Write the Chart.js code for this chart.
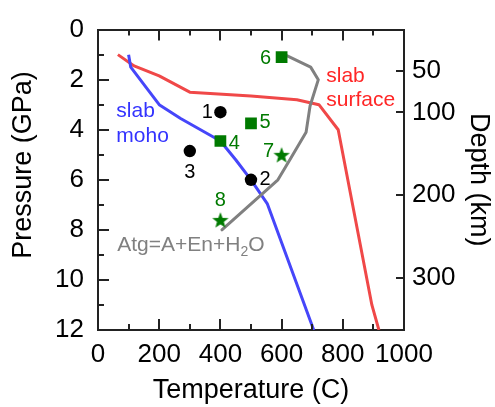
<!DOCTYPE html>
<html>
<head>
<meta charset="utf-8">
<title>Slab P-T diagram</title>
<script src="https://cdn.jsdelivr.net/npm/chart.js@4.4.0/dist/chart.umd.min.js"></script>
<style>
  html, body { margin: 0; padding: 0; background: #fff; }
  canvas { display: block; }
</style>
</head>
<body>
<canvas id="ptChart" width="495" height="407"></canvas>
<script>
// P-T diagram: slab geotherms + Atg breakdown curve + run conditions

/* ── Axis ticks ── */
const tempTicks   = [0, 100, 200, 300, 400, 500, 600, 700, 800, 900, 1000];
const tempLabels  = [0, 200, 400, 600, 800, 1000];
const pressTicks  = [0, 1, 2, 3, 4, 5, 6, 7, 8, 9, 10, 11, 12];
const pressLabels = [0, 2, 4, 6, 8, 10, 12];
const depthTicks  = [50, 100, 200, 300];

/* ── Curves (T in C, P in GPa) ── */
const surfaceT = [65, 118, 200, 300, 500, 650, 722, 785, 895, 918];
const surfaceP = [1.0, 1.45, 1.85, 2.5, 2.65, 2.8, 3.0, 4.0, 11.0, 12.0];

const mohoT = [100, 107, 200, 270, 400, 450, 500, 553, 705];
const mohoP = [1.0, 1.5, 3.0, 3.55, 4.45, 5.2, 6.0, 6.95, 12.0];

const atgT = [610, 695, 720, 693, 680, 627, 588, 405];
const atgP = [1.0, 1.5, 2.0, 3.05, 4.1, 5.2, 6.0, 8.0];

/* ── Run conditions ── */
const circleT = [400, 500, 300];
const circleP = [3.3, 6.0, 4.85];
const circleNames = ['1', '2', '3'];

const squareT = [400, 500, 600];
const squareP = [4.45, 3.75, 1.1];
const squareNames = ['4', '5', '6'];

const starT = [600, 400];
const starP = [5.0, 7.6];
const starNames = ['7', '8'];

const GREEN = '#007a00';
const FONT  = "'Liberation Sans', Arial, Helvetica, sans-serif";

function pts(xs, ys) {
  return xs.map((x, i) => ({ x: x, y: ys[i] }));
}

// filled five point star for the point style
function makeStar(r, color) {
  const c = document.createElement('canvas');
  const s = Math.ceil(r * 2 + 2);
  c.width = s; c.height = s;
  const g = c.getContext('2d');
  g.translate(s / 2, s / 2 + r * 0.1);
  g.beginPath();
  for (let i = 0; i < 10; i++) {
    const rad = i % 2 === 0 ? r : r * 0.42;
    const a = -Math.PI / 2 + i * Math.PI / 5;
    g.lineTo(rad * Math.cos(a), rad * Math.sin(a));
  }
  g.closePath();
  g.fillStyle = color;
  g.fill();
  return c;
}

/* ── Inward tick marks on all four sides ── */
const frameTicks = {
  id: 'frameTicks',
  afterDraw(chart) {
    const { ctx, chartArea: a, scales } = chart;
    ctx.save();
    ctx.strokeStyle = '#222';
    ctx.lineWidth = 2;
    ctx.beginPath();
    tempTicks.forEach(v => {
      const px = Math.round(scales.x.getPixelForValue(v));
      const len = tempLabels.includes(v) ? 11 : 6;
      ctx.moveTo(px, a.bottom); ctx.lineTo(px, a.bottom - len);
      ctx.moveTo(px, a.top);    ctx.lineTo(px, a.top + len);
    });
    pressTicks.forEach(v => {
      const py = Math.round(scales.y.getPixelForValue(v));
      const len = pressLabels.includes(v) ? 11 : 6;
      ctx.moveTo(a.left, py); ctx.lineTo(a.left + len, py);
    });
    depthTicks.forEach(v => {
      const py = Math.round(scales.depth.getPixelForValue(v));
      ctx.moveTo(a.right, py); ctx.lineTo(a.right - 8, py);
    });
    ctx.stroke();

    // left axis title sits a bit above the plot centre in the original
    ctx.translate(24, 165);
    ctx.rotate(-Math.PI / 2);
    ctx.font = '27px ' + FONT;
    ctx.fillStyle = '#000';
    ctx.textAlign = 'center';
    ctx.textBaseline = 'middle';
    ctx.fillText('Pressure (GPa)', 0, 0);
    ctx.restore();
  }
};

/* ── Text labels inside the plot ── */
const plotLabels = {
  id: 'plotLabels',
  afterDatasetsDraw(chart) {
    const { ctx, scales } = chart;
    const X = v => scales.x.getPixelForValue(v);
    const Y = v => scales.y.getPixelForValue(v);

    ctx.save();
    ctx.textBaseline = 'middle';

    // point numbers, offset in px from each marker
    const offs = {
      '1': [-13, 0], '2': [14, 0], '3': [0, 21],
      '4': [14, 2], '5': [14, -1], '6': [-16, 1],
      '7': [-13, -3], '8': [0, -19]
    };
    ctx.font = '20px ' + FONT;
    ctx.textAlign = 'center';
    const put = (ts, ps, names, color) => {
      ctx.fillStyle = color;
      names.forEach((n, i) => {
        const o = offs[n];
        ctx.fillText(n, X(ts[i]) + o[0], Y(ps[i]) + o[1]);
      });
    };
    put(circleT, circleP, circleNames, '#000');
    put(squareT, squareP, squareNames, GREEN);
    put(starT, starP, starNames, GREEN);

    // curve names
    ctx.font = '21px ' + FONT;
    ctx.textAlign = 'left';
    ctx.fillStyle = '#3333ff';
    ctx.fillText('slab', X(60), Y(3.26));
    ctx.fillText('moho', X(60), Y(4.26));
    ctx.fillStyle = '#ff2626';
    ctx.fillText('slab', X(746), Y(1.86));
    ctx.fillText('surface', X(746), Y(2.83));

    // Atg=A+En+H2O with subscript
    ctx.fillStyle = '#808080';
    let x0 = X(63);
    const y0 = Y(8.6);
    const main = 'Atg=A+En+H';
    ctx.fillText(main, x0, y0);
    x0 += ctx.measureText(main).width;
    ctx.font = '14px ' + FONT;
    ctx.fillText('2', x0, y0 + 7);
    x0 += ctx.measureText('2').width;
    ctx.font = '21px ' + FONT;
    ctx.fillText('O', x0, y0);
    ctx.restore();
  }
};

/* ── Chart ── */
Chart.defaults.font.family = FONT;
Chart.defaults.color = '#000';

const border = { display: true, color: '#222', width: 2 };

new Chart(document.getElementById('ptChart'), {
  type: 'scatter',
  data: {
    datasets: [
      {
        label: 'circles', data: pts(circleT, circleP),
        pointStyle: 'circle', pointRadius: 6.2,
        backgroundColor: '#000', borderColor: '#000', borderWidth: 0
      },
      {
        label: 'squares', data: pts(squareT, squareP),
        pointStyle: 'rect', pointRadius: 8.3,
        backgroundColor: GREEN, borderColor: GREEN, borderWidth: 0
      },
      {
        label: 'stars', data: pts(starT, starP),
        pointStyle: makeStar(8.6, GREEN), pointRadius: 8
      },
      {
        label: 'Atg', data: pts(atgT, atgP), showLine: true,
        borderColor: '#808080', borderWidth: 3, pointRadius: 0,
        borderJoinStyle: 'round', borderCapStyle: 'round'
      },
      {
        label: 'slab moho', data: pts(mohoT, mohoP), showLine: true,
        borderColor: '#4646fa', borderWidth: 3, pointRadius: 0,
        borderJoinStyle: 'round'
      },
      {
        label: 'slab surface', data: pts(surfaceT, surfaceP), showLine: true,
        borderColor: '#f04848', borderWidth: 3, pointRadius: 0,
        borderJoinStyle: 'round'
      }
    ]
  },
  options: {
    responsive: false,
    animation: false,
    devicePixelRatio: 1,
    layout: { padding: 0 },
    plugins: { legend: { display: false }, tooltip: { enabled: false } },
    scales: {
      x: {
        type: 'linear', position: 'bottom', min: 0, max: 1000,
        afterBuildTicks: s => { s.ticks = tempTicks.map(v => ({ value: v })); },
        afterFit: s => { s.height = 77; },
        grid: { display: false, drawTicks: false },
        border: border,
        ticks: {
          autoSkip: false, maxRotation: 0, padding: 9,
          font: { size: 26 },
          callback: v => (tempLabels.includes(v) ? String(v) : '')
        },
        title: { display: true, text: 'Temperature (C)', font: { size: 27 }, padding: 0 }
      },
      xTop: {
        type: 'linear', position: 'top', min: 0, max: 1000,
        afterFit: s => { s.height = 22; },
        grid: { display: false, drawTicks: false },
        border: border,
        ticks: { display: false }
      },
      y: {
        type: 'linear', position: 'left', min: 0, max: 12, reverse: true,
        afterBuildTicks: s => { s.ticks = pressTicks.map(v => ({ value: v })); },
        afterFit: s => { s.width = 98; },
        grid: { display: false, drawTicks: false },
        border: border,
        ticks: {
          autoSkip: false, padding: 14,
          font: { size: 26 },
          callback: v => (pressLabels.includes(v) ? String(v) : '')
        },
        title: { display: false }
      },
      depth: {
        type: 'linear', position: 'right', min: 0, max: 363, reverse: true,
        afterBuildTicks: s => { s.ticks = depthTicks.map(v => ({ value: v })); },
        afterFit: s => { s.width = 91; },
        grid: { display: false, drawTicks: false },
        border: border,
        ticks: { autoSkip: false, padding: 8, font: { size: 26 } },
        title: { display: true, text: 'Depth (km)', font: { size: 27 }, padding: 0 }
      }
    }
  },
  plugins: [frameTicks, plotLabels]
});
</script>
</body>
</html>
